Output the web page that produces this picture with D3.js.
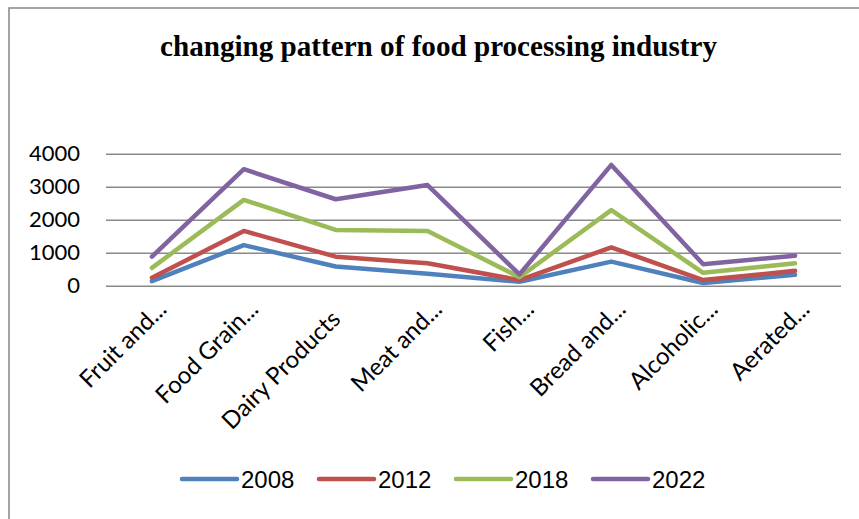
<!DOCTYPE html>
<html><head><meta charset="utf-8">
<script src="https://cdn.jsdelivr.net/npm/d3@7"></script>
<style>body{margin:0;background:#fff} svg{display:block}</style>
</head><body><svg id="c" width="859" height="519"></svg>
<script>
const title = "changing pattern of food processing industry";
const categories = ["Fruit and...", "Food Grain...", "Dairy Products", "Meat and...", "Fish...", "Bread and...", "Alcoholic...", "Aerated..."];
const years = ["2008", "2012", "2018", "2022"];
const v2008 = [140, 1230, 580, 360, 120, 730, 80, 330];
const v2012 = [240, 1660, 880, 680, 170, 1160, 170, 450];
const v2018 = [540, 2600, 1690, 1660, 260, 2290, 390, 680];
const v2022 = [880, 3530, 2620, 3050, 340, 3660, 650, 910];
const yTicks = [0, 1000, 2000, 3000, 4000];
const colors = ["#4f81bd", "#c0504d", "#9bbb59", "#8064a2"];

const seriesValues = [v2008, v2012, v2018, v2022];
const series = years.map((y, i) => ({ year: y, color: colors[i], values: seriesValues[i] }));

const svg = d3.select("#c");
svg.append("rect").attr("width", 859).attr("height", 519).attr("fill", "#fff");
svg.append("rect").attr("x", 9).attr("y", 8).attr("width", 900).attr("height", 600)
  .attr("fill", "none").attr("stroke", "#868686").attr("stroke-width", 1.5);

svg.append("text").attr("x", 438.5).attr("y", 56).attr("text-anchor", "middle")
  .attr("font-family", "'Liberation Serif', 'Times New Roman', serif").attr("font-weight", "bold")
  .attr("font-size", 30).attr("textLength", 557).attr("lengthAdjust", "spacingAndGlyphs")
  .attr("fill", "#000").text(title);

const pLeft = 106, pRight = 841, pTop = 153.7, pBottom = 285.7;
const x = d3.scaleBand().domain(categories).range([pLeft, pRight]).padding(0);
const y = d3.scaleLinear().domain([0, 4000]).range([pBottom, pTop]);

const gy = svg.append("g").attr("transform", `translate(${pLeft},0)`)
  .call(d3.axisLeft(y).tickValues(yTicks).tickSize(-(pRight - pLeft)).tickPadding(26).tickFormat(d3.format("d")));
gy.select(".domain").remove();
gy.selectAll(".tick line").attr("stroke", "#898989").attr("stroke-width", 1.5);
gy.selectAll(".tick text").attr("font-family", "Lato, 'Open Sans', sans-serif").attr("font-size", 22).attr("fill", "#000");

const gx = svg.append("g").attr("transform", `translate(0,${pBottom})`)
  .call(d3.axisBottom(x).tickSize(0).tickPadding(0));
gx.select(".domain").remove();
gx.selectAll(".tick text")
  .attr("font-family", "Lato, 'Open Sans', sans-serif").attr("font-size", 24).attr("fill", "#000")
  .attr("text-anchor", "end").attr("dy", null).attr("y", 0)
  .attr("x", d => d.endsWith("...") ? 0 : -14)
  .attr("transform", "translate(16,25) rotate(-45)");

const line = d3.line().x((d, i) => x(categories[i]) + x.bandwidth() / 2).y(d => y(d));
svg.append("g").selectAll("path").data(series).join("path")
  .attr("d", d => line(d.values)).attr("fill", "none").attr("stroke", d => d.color)
  .attr("stroke-width", 4.5).attr("stroke-linejoin", "round").attr("stroke-linecap", "round");

const lg = svg.append("g").selectAll("g").data(series).join("g")
  .attr("transform", (d, i) => `translate(${182 + i * 137},479)`);
lg.append("line").attr("x1", 0).attr("x2", 55).attr("y1", 0).attr("y2", 0)
  .attr("stroke", d => d.color).attr("stroke-width", 4.5).attr("stroke-linecap", "round");
lg.append("text").attr("x", 59).attr("y", 8.5).attr("font-family", "'Liberation Sans', Arial, sans-serif")
  .attr("font-size", 24).attr("fill", "#000").text(d => d.year);
</script></body></html>
